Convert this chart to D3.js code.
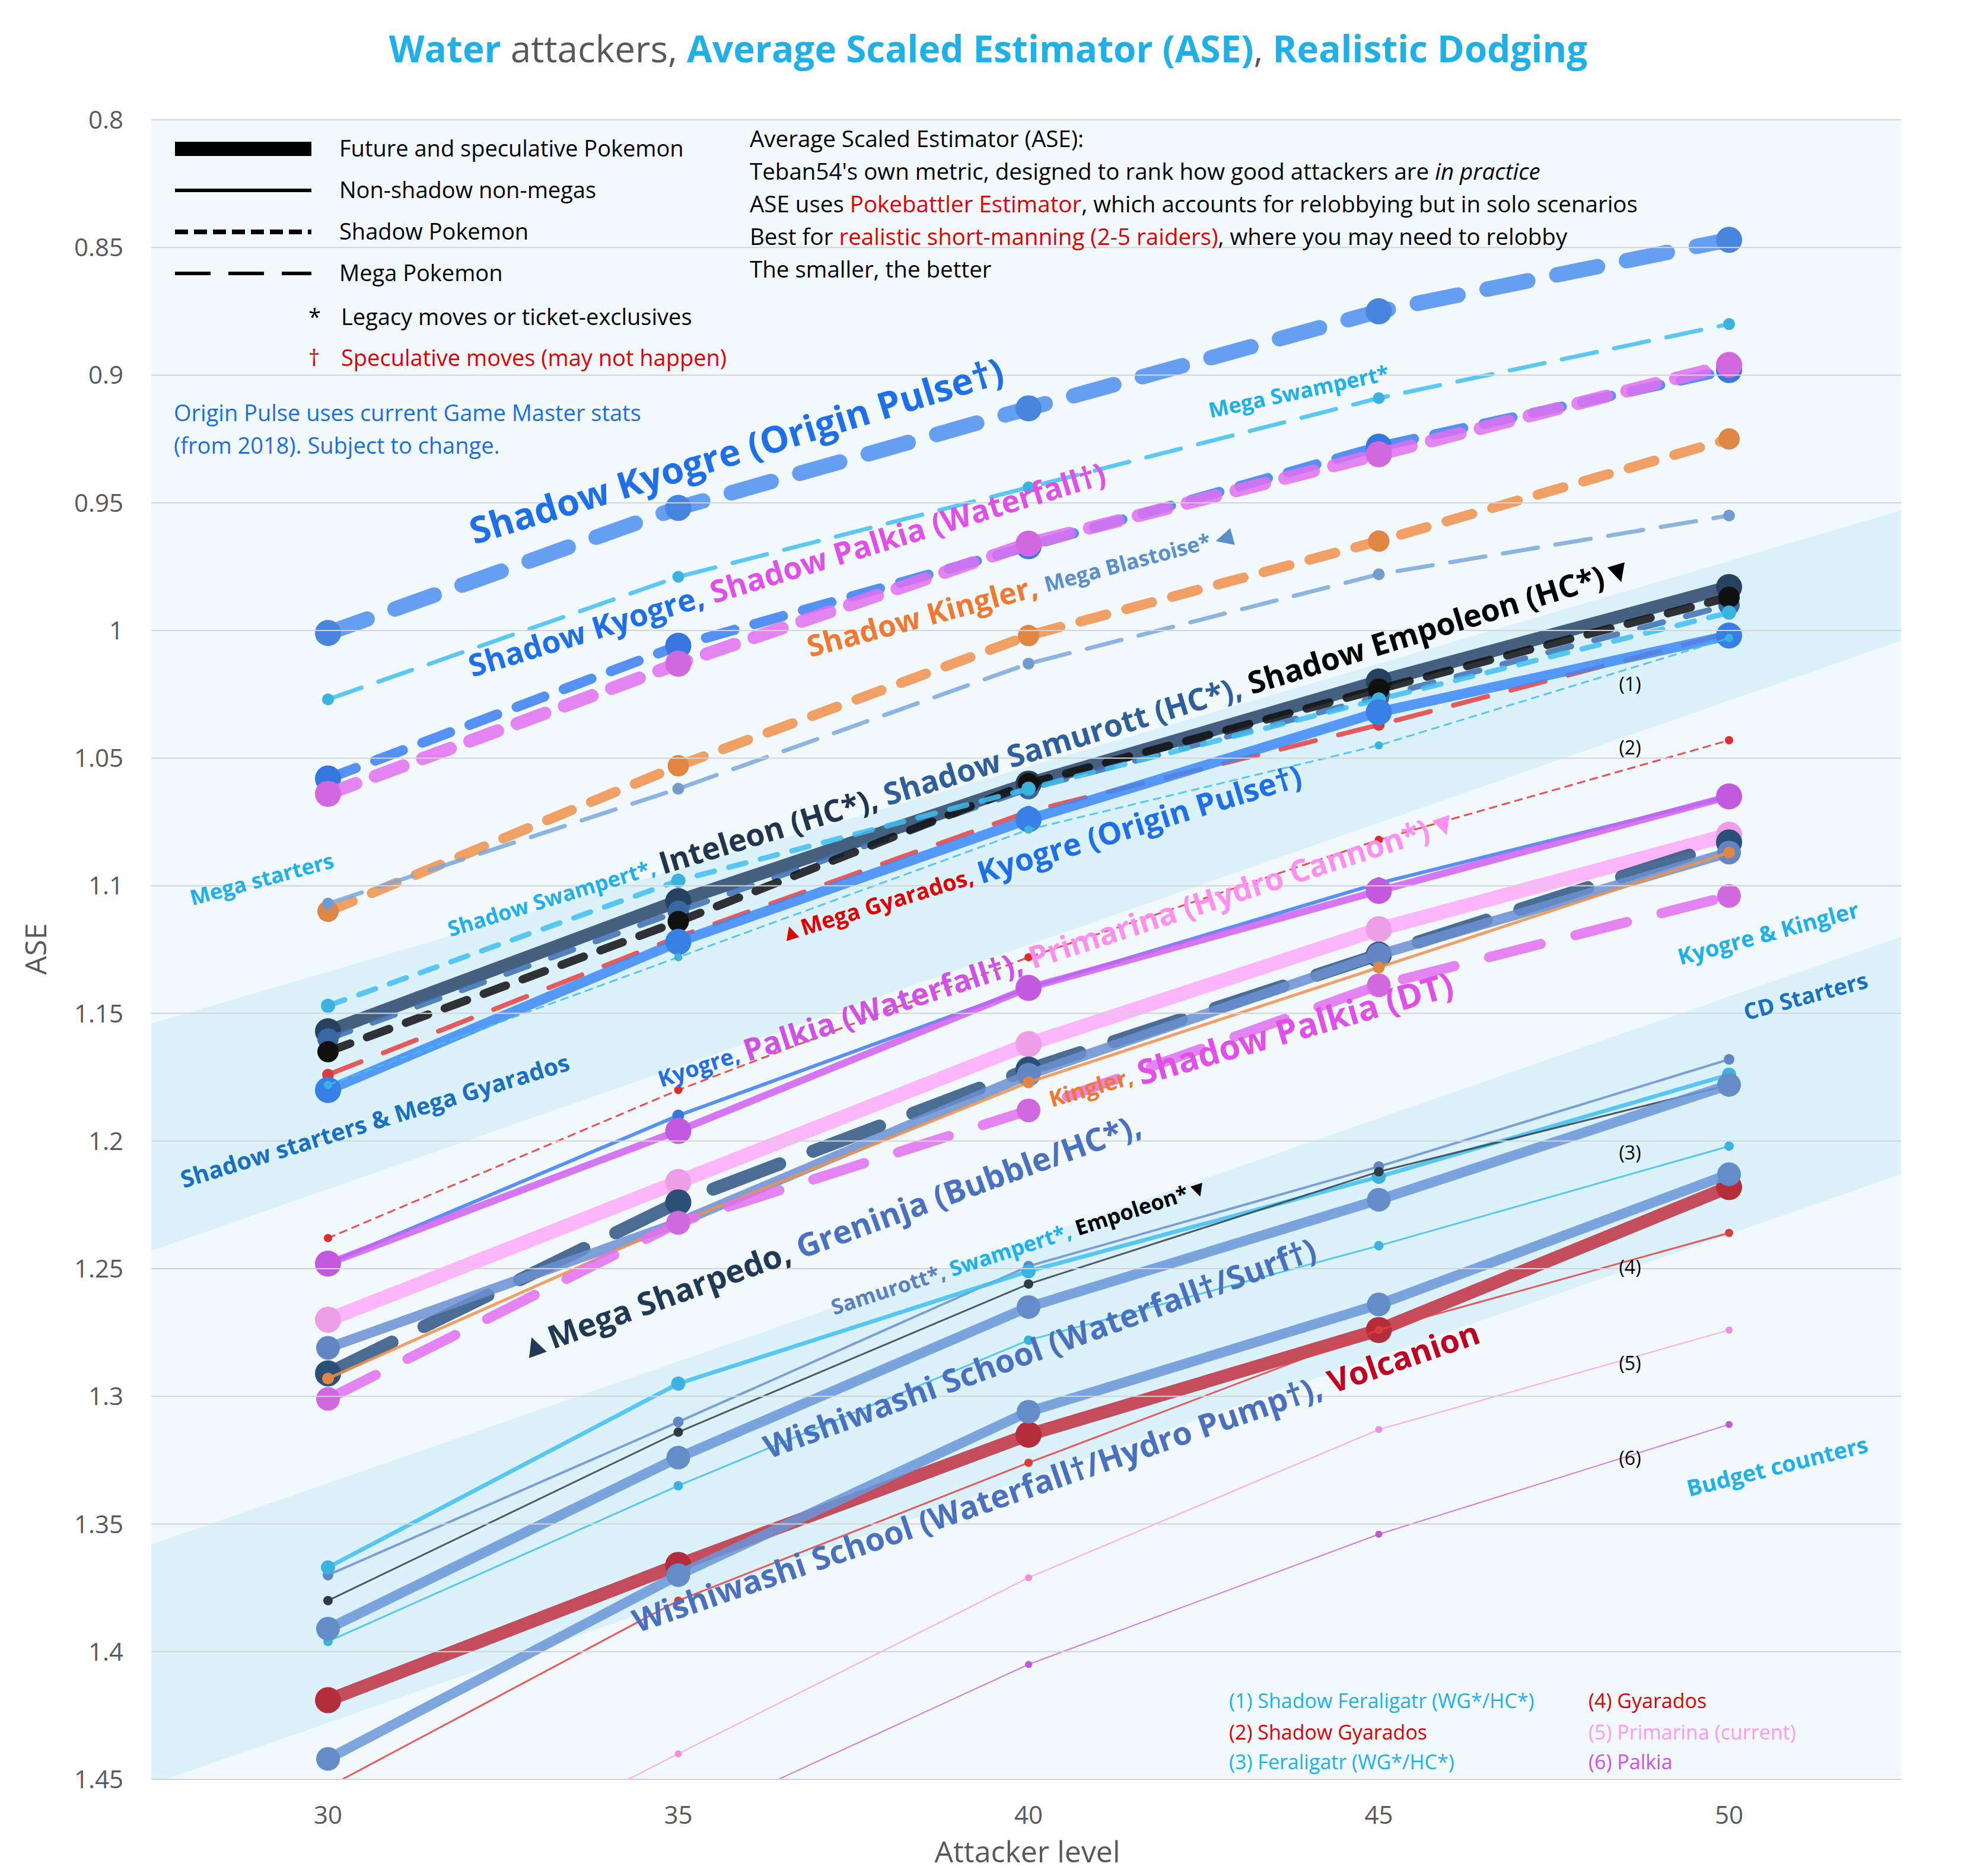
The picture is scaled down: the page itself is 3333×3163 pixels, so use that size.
<!DOCTYPE html>
<html lang="en">
<head>
<meta charset="UTF-8">
<title>Water attackers ASE</title>
<script src="https://cdnjs.cloudflare.com/ajax/libs/d3/7.9.0/d3.min.js"></script>
<style>
  body { margin: 0; background: #fff; }
  text { font-family: "Open Sans", "Noto Sans", sans-serif; }
</style>
</head>
<body>
<svg id="chart" width="3333" height="3163"></svg>
<script>
// ---- data ----
const levels = [30, 35, 40, 45, 50];
const yTicks = [0.8, 0.85, 0.9, 0.95, 1, 1.05, 1.1, 1.15, 1.2, 1.25, 1.3, 1.35, 1.4, 1.45];

const seriesNames = [
  "Shadow Kyogre (Origin Pulse)", "Mega Swampert", "Shadow Kyogre", "Shadow Palkia (Waterfall)",
  "Shadow Kingler", "Mega Blastoise", "Inteleon (HC)", "Shadow Samurott (HC)", "Shadow Empoleon (HC)",
  "Shadow Swampert", "Mega Gyarados", "Kyogre (Origin Pulse)", "Shadow Feraligatr", "Shadow Gyarados",
  "Kyogre", "Palkia (Waterfall)", "Primarina (Hydro Cannon)", "Mega Sharpedo", "Greninja",
  "Kingler", "Shadow Palkia (DT)", "Samurott", "Swampert", "Empoleon", "Feraligatr",
  "Wishiwashi (Surf)", "Volcanion", "Wishiwashi (Hydro Pump)", "Gyarados", "Primarina (current)", "Palkia"
];
const seriesValues = [
  [1.001, 0.952, 0.913, 0.875, 0.847],
  [1.027, 0.979, 0.944, 0.909, 0.880],
  [1.058, 1.006, 0.967, 0.928, 0.898],
  [1.064, 1.013, 0.966, 0.931, 0.896],
  [1.110, 1.053, 1.002, 0.965, 0.925],
  [1.107, 1.062, 1.013, 0.978, 0.955],
  [1.157, 1.106, 1.060, 1.020, 0.983],
  [1.160, 1.110, 1.062, 1.026, 0.990],
  [1.165, 1.114, 1.060, 1.023, 0.987],
  [1.147, 1.098, 1.062, 1.027, 0.993],
  [1.174, 1.120, 1.071, 1.037, 1.001],
  [1.180, 1.122, 1.074, 1.032, 1.002],
  [1.178, 1.128, 1.078, 1.045, 1.003],
  [1.238, 1.180, 1.128, 1.082, 1.043],
  [1.248, 1.190, 1.140, 1.099, 1.065],
  [1.248, 1.196, 1.140, 1.102, 1.065],
  [1.270, 1.216, 1.162, 1.117, 1.080],
  [1.291, 1.224, 1.172, 1.127, 1.083],
  [1.281, 1.232, 1.174, 1.127, 1.087],
  [1.293, 1.232, 1.177, 1.132, 1.087],
  [1.301, 1.232, 1.188, 1.139, 1.104],
  [1.370, 1.310, 1.249, 1.210, 1.168],
  [1.367, 1.295, 1.251, 1.214, 1.174],
  [1.380, 1.314, 1.256, 1.212, 1.178],
  [1.396, 1.335, 1.278, 1.241, 1.202],
  [1.391, 1.324, 1.265, 1.223, 1.178],
  [1.419, 1.366, 1.315, 1.274, 1.218],
  [1.442, 1.370, 1.306, 1.264, 1.213],
  [1.453, 1.380, 1.326, 1.274, 1.236],
  [1.510, 1.440, 1.371, 1.313, 1.274],
  [1.540, 1.468, 1.405, 1.354, 1.311]
];

// styles: color, width, dash, dot radius
const styles = [
  ["#4d8ff0", 26, "70,50", 22], ["#3fc0ee", 7, "60,30", 10], ["#3a7ff0", 17, "50,35", 22],
  ["#e070f0", 22, "50,35", 22], ["#f0904a", 17, "45,35", 18], ["#7aa8dc", 7, "60,30", 10],
  ["#2a4668", 22, null, 22], ["#3d6fb0", 10, "40,40", 18], ["#111111", 14, "40,30", 18],
  ["#3fc0ee", 9, "30,25", 12], ["#e84040", 8, "60,40", 10], ["#3d8af7", 17, null, 22],
  ["#3fc0ee", 3, "12,10", 7], ["#f03030", 3, "12,10", 7], ["#3d7ff0", 6, null, 10],
  ["#d060f0", 12, null, 22], ["#ffaaf8", 24, null, 22], ["#2e5580", 22, "120,60", 22],
  ["#6a8fd0", 17, null, 20], ["#f0904a", 5, null, 10], ["#e070f0", 17, "90,60", 20],
  ["#6a8fd0", 4, null, 9], ["#3fc0ee", 7, null, 12], ["#333f48", 3, null, 8],
  ["#3fc0ee", 3, null, 8], ["#6a96d8", 17, null, 20], ["#c0303f", 22, null, 22],
  ["#6a96d8", 17, null, 20], ["#e84040", 3, null, 7], ["#ff99f0", 2, null, 6], ["#d060e0", 2, null, 6]
];

// background bands: [left top, left bottom, right top, right bottom] in ASE units
const bands = [
  [1.154, 1.243, 0.953, 1.004],
  [1.358, 1.452, 1.120, 1.213]
];

// ---- layout ----
const L = 255, R = 3205, T = 202, B = 3000;
const x = d3.scaleLinear().domain([30, 50]).range([553, 2915]);
const y = d3.scaleLinear().domain([0.8, 1.45]).range([T, B]);
const svg = d3.select("#chart");

svg.append("defs").append("clipPath").attr("id", "clip")
  .append("rect").attr("x", L).attr("y", T).attr("width", R - L).attr("height", B - T);

svg.append("rect").attr("x", L).attr("y", T).attr("width", R - L).attr("height", B - T).attr("fill", "#f1f9fd");

const plot = svg.append("g").attr("clip-path", "url(#clip)");
bands.forEach(b => {
  plot.append("polygon")
    .attr("points", [[L, y(b[0])], [R, y(b[2])], [R, y(b[3])], [L, y(b[1])]].map(p => p.join(",")).join(" "))
    .attr("fill", "#dcf2fb");
});

// grid + axis
svg.append("g").selectAll("line").data(yTicks).join("line")
  .attr("x1", L).attr("x2", R).attr("y1", d => y(d)).attr("y2", d => y(d))
  .attr("stroke", "#d4d4d4").attr("stroke-width", 2);
svg.append("g").selectAll("text").data(yTicks).join("text")
  .attr("x", 208).attr("y", d => y(d) + 15).attr("text-anchor", "end")
  .attr("font-size", 42).attr("fill", "#595959").text(d => d3.format("")(d));
svg.append("g").selectAll("text").data(levels).join("text")
  .attr("x", d => x(d)).attr("y", 3075).attr("text-anchor", "middle")
  .attr("font-size", 42).attr("fill", "#595959").text(d => d);
svg.append("text").attr("x", 1732).attr("y", 3140).attr("text-anchor", "middle")
  .attr("font-size", 50).attr("fill", "#595959").text("Attacker level");
svg.append("text").attr("transform", "translate(78,1600) rotate(-90)").attr("text-anchor", "middle")
  .attr("font-size", 50).attr("fill", "#595959").text("ASE");

// series
const line = d3.line().x((d, i) => x(levels[i])).y(d => y(d));
seriesValues.forEach((vals, k) => {
  const [c, w, dash, r] = styles[k];
  const g = plot.append("g").attr("class", "series").attr("data-name", seriesNames[k]);
  g.append("path").attr("d", line(vals)).attr("fill", "none")
    .attr("stroke", c).attr("stroke-width", w).attr("stroke-opacity", 0.85)
    .attr("stroke-linecap", "round").attr("stroke-dasharray", dash);
  g.selectAll("circle").data(vals).join("circle")
    .attr("cx", (d, i) => x(levels[i])).attr("cy", d => y(d)).attr("r", r)
    .attr("fill", d3.color(c).darker(0.2));
});

// title
const title = svg.append("text").attr("x", 1666).attr("y", 105).attr("text-anchor", "middle").attr("font-size", 62);
[["Water", "#1fb0e8", 700], [" attackers, ", "#595959", 400], ["Average Scaled Estimator (ASE)", "#1fb0e8", 700],
 [", ", "#595959", 400], ["Realistic Dodging", "#1fb0e8", 700]]
  .forEach(p => title.append("tspan").attr("fill", p[1]).attr("font-weight", p[2]).text(p[0]));

// legend samples
const legendRows = [
  ["Future and speculative Pokemon", 24, null],
  ["Non-shadow non-megas", 6, null],
  ["Shadow Pokemon", 8, "22,10"],
  ["Mega Pokemon", 6, "60,30"]
];
legendRows.forEach((row, i) => {
  const yy = 251 + i * 70;
  svg.append("line").attr("x1", 295).attr("x2", 525).attr("y1", yy).attr("y2", yy)
    .attr("stroke", "#000").attr("stroke-width", row[1]).attr("stroke-dasharray", row[2]);
  svg.append("text").attr("x", 572).attr("y", yy + 13).attr("font-size", 38).text(row[0]);
});
svg.append("text").attr("x", 520).attr("y", 548).attr("font-size", 38).text("*");
svg.append("text").attr("x", 575).attr("y", 548).attr("font-size", 38).text("Legacy moves or ticket-exclusives");
svg.append("text").attr("x", 520).attr("y", 617).attr("font-size", 38).attr("fill", "#e00000").text("†");
svg.append("text").attr("x", 575).attr("y", 617).attr("font-size", 38).attr("fill", "#e00000").text("Speculative moves (may not happen)");

svg.append("text").attr("x", 293).attr("y", 710).attr("font-size", 38).attr("fill", "#1a6fe0").text("Origin Pulse uses current Game Master stats");
svg.append("text").attr("x", 293).attr("y", 765).attr("font-size", 38).attr("fill", "#1a6fe0").text("(from 2018). Subject to change.");

// explanation block
const expl = [
  [["Average Scaled Estimator (ASE):", "#000"]],
  [["Teban54's own metric, designed to rank how good attackers are ", "#000"], ["in practice", "#000", "italic"]],
  [["ASE uses ", "#000"], ["Pokebattler Estimator", "#e00000"], [", which accounts for relobbying but in solo scenarios", "#000"]],
  [["Best for ", "#000"], ["realistic short-manning (2-5 raiders)", "#e00000"], [", where you may need to relobby", "#000"]],
  [["The smaller, the better", "#000"]]
];
expl.forEach((parts, i) => {
  const t = svg.append("text").attr("x", 1264).attr("y", 248 + i * 55).attr("font-size", 38.5);
  parts.forEach(p => t.append("tspan").attr("fill", p[1]).attr("font-style", p[2] || null).text(p[0]));
});

// rotated annotations: [cx, cy, angle, parts[[text, color, size]]]
const B1 = "#1fb0e8", DB = "#1a70c0";
const annotations = [
  [1243, 765, -17, [["Shadow Kyogre (Origin Pulse†)", "#1f6fe8", 62]]],
  [2190, 663, -12, [["Mega Swampert*", B1, 36]]],
  [1328, 965, -17, [["Shadow Kyogre, ", "#1f6fe8", 52], ["Shadow Palkia (Waterfall†)", "#e050e8", 52]]],
  [1720, 1000, -15, [["Shadow Kingler, ", "#f07830", 50], ["Mega Blastoise* ◀", "#5b8fc8", 36]]],
  [1755, 1265, -17, [["Shadow Swampert*, ", B1, 36], ["Inteleon (HC*), ", "#203550", 52], ["Shadow Samurott (HC*), ", "#2e5f9a", 52], ["Shadow Empoleon (HC*)▼", "#000", 52]]],
  [1755, 1445, -17, [["▲Mega Gyarados, ", "#e00000", 38], ["Kyogre (Origin Pulse†)", "#1f6fe8", 52]]],
  [1785, 1605, -18, [["Kyogre, ", "#1f6fe8", 38], ["Palkia (Waterfall†), ", "#d050e8", 52], ["Primarina (Hydro Cannon*)▼", "#ff90f0", 52]]],
  [2110, 1760, -16, [["Kingler, ", "#f07830", 38], ["Shadow Palkia (DT)", "#e050e8", 58]]],
  [1400, 2090, -20, [["▲Mega Sharpedo, ", "#203a55", 54], ["Greninja (Bubble/HC*), ", "#4a70c0", 54]]],
  [1720, 2105, -18, [["Samurott*, ", "#5a80c0", 36], ["Swampert*, ", B1, 36], ["Empoleon*▼", "#000", 36]]],
  [1755, 2278, -20, [["Wishiwashi School (Waterfall†/Surf†)", "#4a70c0", 54]]],
  [1782, 2495, -19, [["Wishiwashi School (Waterfall†/Hydro Pump†), ", "#4a70c0", 54], ["Volcanion", "#c00020", 54]]],
  [442, 1485, -15, [["Mega starters", B1, 36]]],
  [633, 1893, -17, [["Shadow starters & Mega Gyarados", DB, 40]]],
  [2982, 1577, -15, [["Kyogre & Kingler", B1, 38]]],
  [3045, 1683, -15, [["CD Starters", DB, 38]]],
  [2997, 2476, -14, [["Budget counters", B1, 38]]]
];
annotations.forEach(a => {
  const t = svg.append("text").attr("transform", `translate(${a[0]},${a[1]}) rotate(${a[2]})`)
    .attr("text-anchor", "middle").attr("dominant-baseline", "middle").attr("font-weight", 700);
  a[3].forEach(p => t.append("tspan").attr("fill", p[1]).attr("font-size", p[2]).text(p[0]));
});

// numbered markers
const markerNames = ["(1)", "(2)", "(3)", "(4)", "(5)", "(6)"];
const markerY = [1165, 1272, 1955, 2148, 2310, 2470];
markerNames.forEach((m, i) => {
  svg.append("text").attr("x", 2748).attr("y", markerY[i]).attr("text-anchor", "middle")
    .attr("font-size", 32).attr("fill", "#000").text(m);
});

// footnote legend
const footnotes = [
  ["(1) Shadow Feraligatr (WG*/HC*)", B1, 2072, 2880], ["(2) Shadow Gyarados", "#e00000", 2072, 2933],
  ["(3) Feraligatr (WG*/HC*)", B1, 2072, 2983], ["(4) Gyarados", "#e00000", 2678, 2880],
  ["(5) Primarina (current)", "#ff99f0", 2678, 2933], ["(6) Palkia", "#d050e8", 2678, 2983]
];
footnotes.forEach(f => svg.append("text").attr("x", f[2]).attr("y", f[3]).attr("font-size", 34).attr("fill", f[1]).text(f[0]));
</script>
</body>
</html>
